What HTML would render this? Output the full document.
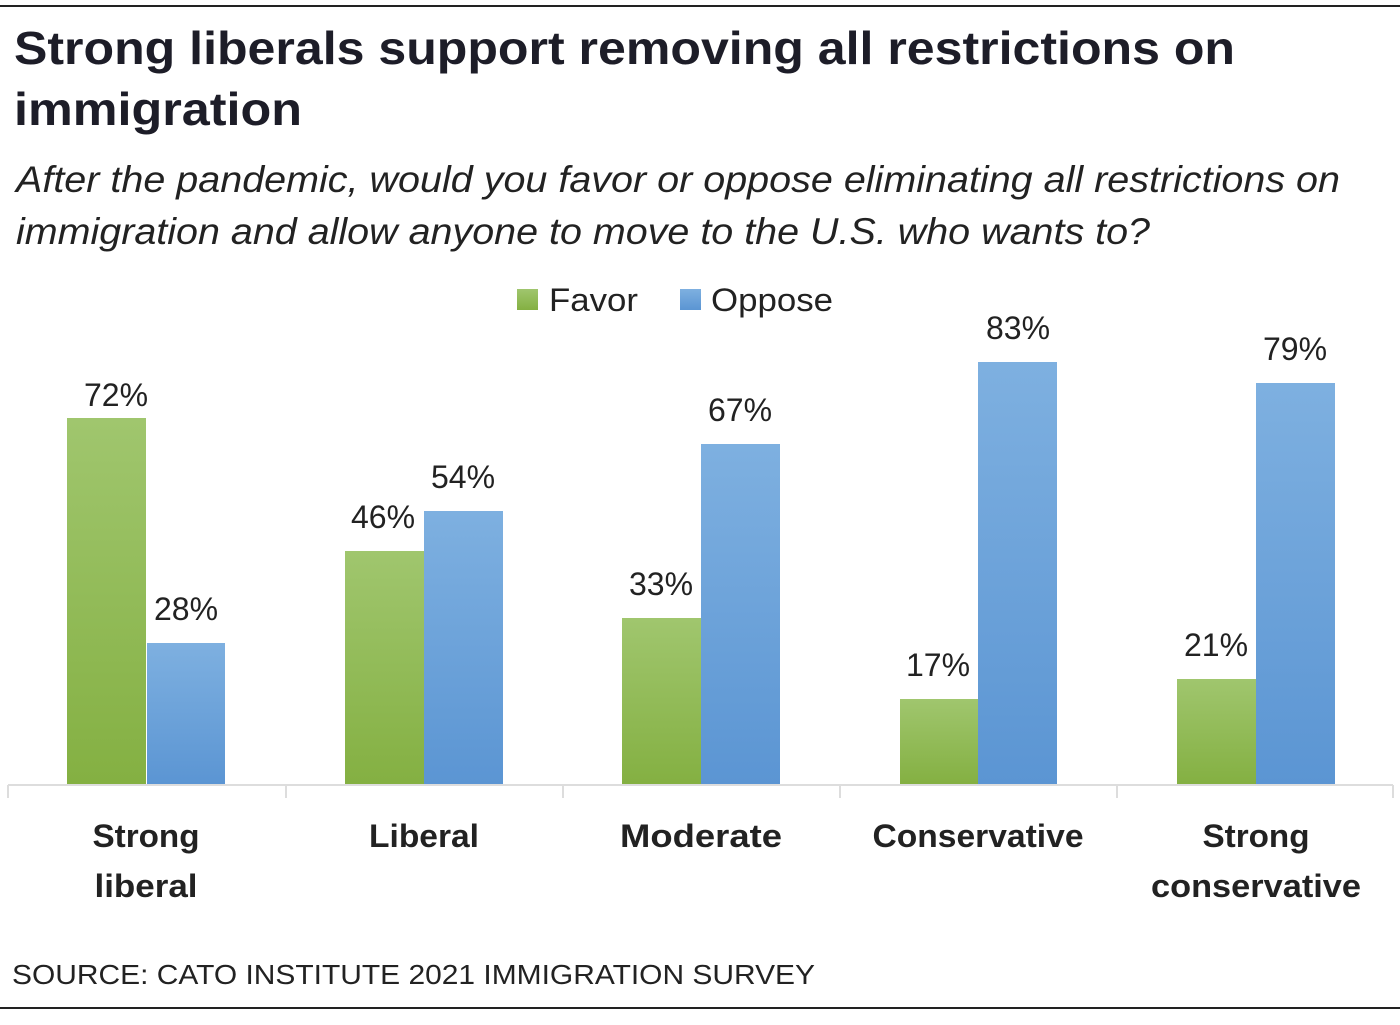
<!DOCTYPE html>
<html><head><meta charset="utf-8"><style>
body{margin:0;background:#fff;width:1400px;height:1020px;overflow:hidden;}
svg text{font-family:"Liberation Sans",sans-serif;}
</style></head><body>
<svg width="1400" height="1020" xmlns="http://www.w3.org/2000/svg">
<defs>
<linearGradient id="g" x1="0" y1="0" x2="0" y2="1"><stop offset="0" stop-color="#a0c66e"/><stop offset="1" stop-color="#84b042"/></linearGradient>
<linearGradient id="b" x1="0" y1="0" x2="0" y2="1"><stop offset="0" stop-color="#7eb0e0"/><stop offset="1" stop-color="#5b95d3"/></linearGradient>
</defs>
<line x1="0" y1="6" x2="1400" y2="6" stroke="#222" stroke-width="2"/>
<line x1="0" y1="1008" x2="1400" y2="1008" stroke="#222" stroke-width="2"/>
<text x="14" y="64" font-size="46" font-weight="bold" fill="#1d1d28" textLength="1221" lengthAdjust="spacingAndGlyphs">Strong liberals support removing all restrictions on</text>
<text x="14" y="125" font-size="46" font-weight="bold" fill="#1d1d28" textLength="288" lengthAdjust="spacingAndGlyphs">immigration</text>
<text x="16" y="192" font-size="37" font-style="italic" fill="#222" textLength="1324" lengthAdjust="spacingAndGlyphs">After the pandemic, would you favor or oppose eliminating all restrictions on</text>
<text x="16" y="244" font-size="37" font-style="italic" fill="#222" textLength="1134" lengthAdjust="spacingAndGlyphs">immigration and allow anyone to move to the U.S. who wants to?</text>
<rect x="517" y="289" width="21" height="21" fill="url(#g)"/>
<text x="549" y="311" font-size="32" fill="#222" textLength="89" lengthAdjust="spacingAndGlyphs">Favor</text>
<rect x="680" y="289" width="21" height="21" fill="url(#b)"/>
<text x="711" y="311" font-size="32" fill="#222" textLength="122" lengthAdjust="spacingAndGlyphs">Oppose</text>
<g stroke="#ddd" stroke-width="2">
<line x1="8" y1="785" x2="1393" y2="785"/>
<line x1="8" y1="785" x2="8" y2="798"/><line x1="286" y1="785" x2="286" y2="798"/><line x1="563" y1="785" x2="563" y2="798"/><line x1="840" y1="785" x2="840" y2="798"/><line x1="1117" y1="785" x2="1117" y2="798"/><line x1="1393" y1="785" x2="1393" y2="798"/>
</g>
<g font-size="32" fill="#222" text-anchor="middle">
<rect x="67" y="418" width="79" height="366" fill="url(#g)"/><text x="116" y="406">72%</text>
<rect x="147" y="643" width="78" height="141" fill="url(#b)"/><text x="186" y="620">28%</text>
<rect x="345" y="551" width="79" height="233" fill="url(#g)"/><text x="383" y="528">46%</text>
<rect x="424" y="511" width="79" height="273" fill="url(#b)"/><text x="463" y="488">54%</text>
<rect x="622" y="618" width="79" height="166" fill="url(#g)"/><text x="661" y="595">33%</text>
<rect x="701" y="444" width="79" height="340" fill="url(#b)"/><text x="740" y="421">67%</text>
<rect x="900" y="699" width="78" height="85" fill="url(#g)"/><text x="938" y="676">17%</text>
<rect x="978" y="362" width="79" height="422" fill="url(#b)"/><text x="1018" y="339">83%</text>
<rect x="1177" y="679" width="79" height="105" fill="url(#g)"/><text x="1216" y="656">21%</text>
<rect x="1256" y="383" width="79" height="401" fill="url(#b)"/><text x="1295" y="360">79%</text>
</g>
<g font-size="32" font-weight="bold" fill="#222" text-anchor="middle" lengthAdjust="spacingAndGlyphs">
<text x="146" y="847" textLength="107" lengthAdjust="spacingAndGlyphs">Strong</text><text x="146" y="897" textLength="103" lengthAdjust="spacingAndGlyphs">liberal</text>
<text x="424" y="847" textLength="110" lengthAdjust="spacingAndGlyphs">Liberal</text>
<text x="701" y="847" textLength="162" lengthAdjust="spacingAndGlyphs">Moderate</text>
<text x="978" y="847" textLength="211" lengthAdjust="spacingAndGlyphs">Conservative</text>
<text x="1256" y="847" textLength="107" lengthAdjust="spacingAndGlyphs">Strong</text><text x="1256" y="897" textLength="210" lengthAdjust="spacingAndGlyphs">conservative</text>
</g>
<text x="12" y="984" font-size="28" fill="#222" textLength="803" lengthAdjust="spacingAndGlyphs">SOURCE: CATO INSTITUTE 2021 IMMIGRATION SURVEY</text>
</svg>
</body></html>
